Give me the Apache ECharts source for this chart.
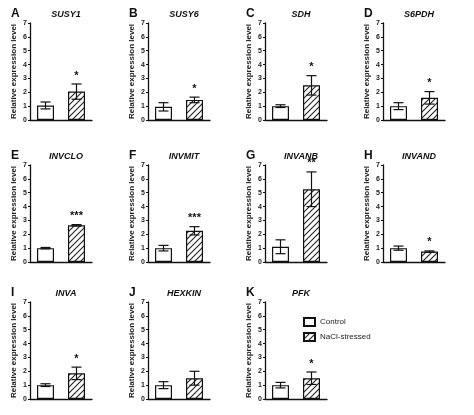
<!DOCTYPE html><html><head><meta charset="utf-8"><script src="https://cdn.jsdelivr.net/npm/echarts@6/dist/echarts.min.js"></script></head><body style="margin:0"><div id="c" style="width:474px;height:415px"></div><script>
const letters=['A','B','C','D','E','F','G','H','I','J','K'];
const genes=['SUSY1','SUSY6','SDH','S6PDH','INVCLO','INVMIT','INVANB','INVAND','INVA','HEXKIN','PFK'];
const controlMean=[1.05,0.95,1.0,1.0,1.0,1.0,1.1,1.0,1.0,1.0,1.0];
const controlErr=[0.25,0.3,0.1,0.25,0.05,0.2,0.5,0.15,0.1,0.25,0.2];
const stressMean=[2.05,1.45,2.5,1.6,2.65,2.25,5.25,0.75,1.85,1.5,1.5];
const stressErr=[0.55,0.2,0.7,0.45,0.05,0.3,1.25,0.05,0.45,0.5,0.45];
const sig=['*','*','*','*','***','***','**','*','*','','*'];
const yTicks=[0,1,2,3,4,5,6,7];
const cats=['Control','NaCl-stressed'];
const colX=[30,148,265,383], rowY=[23,165,302], W=62, H=97;
const grid=[],xAxis=[],yAxis=[],series=[],title=[];
const pc=document.createElement('canvas');pc.width=6;pc.height=6;const g=pc.getContext('2d');
g.fillStyle='#fff';g.fillRect(0,0,6,6);g.strokeStyle='#222';g.lineWidth=1.1;
g.beginPath();g.moveTo(0,6);g.lineTo(6,0);g.moveTo(-1,1);g.lineTo(1,-1);g.moveTo(5,7);g.lineTo(7,5);g.stroke();
for(let i=0;i<11;i++){
 const L=colX[i%4],T=rowY[Math.floor(i/4)];
 grid.push({left:L,top:T,width:W,height:H});
 xAxis.push({gridIndex:i,type:'category',data:cats,axisLabel:{show:false},axisTick:{show:false},axisLine:{lineStyle:{color:'#111',width:1.3}}});
 yAxis.push({gridIndex:i,type:'value',min:yTicks[0],max:yTicks[yTicks.length-1],interval:1,splitLine:{show:false},
  axisLine:{show:true,lineStyle:{color:'#111',width:1.3}},axisTick:{show:true,length:2,lineStyle:{color:'#111'}},
  axisLabel:{fontSize:7,margin:3,color:'#222',fontWeight:'bold',fontFamily:'Liberation Sans'},
  name:'Relative expression level',nameLocation:'middle',nameGap:12,nameTextStyle:{fontSize:8,color:'#222',fontWeight:'bold',fontFamily:'Liberation Sans'}});
 series.push({type:'bar',name:'Control',xAxisIndex:i,yAxisIndex:i,barWidth:17,data:[controlMean[i],'-'],itemStyle:{color:'#fff',borderColor:'#111',borderWidth:1.2},stack:'s'+i});
 series.push({type:'bar',name:'NaCl-stressed',xAxisIndex:i,yAxisIndex:i,barWidth:17,data:['-',stressMean[i]],itemStyle:{color:{image:pc,repeat:'repeat'},borderColor:'#111',borderWidth:1.2},stack:'s'+i});
 const ed=[[0,controlMean[i],controlErr[i],''],[1,stressMean[i],stressErr[i],sig[i]]];
 series.push({type:'custom',xAxisIndex:i,yAxisIndex:i,silent:true,data:ed,z:5,renderItem:(p,api)=>{
  const x=api.value(0),m=api.value(1),e=api.value(2);
  const a=api.coord([x,m]),b=api.coord([x,m+e]),c=api.coord([x,m-e]);
  const ch=[{type:'line',shape:{x1:a[0],y1:c[1],x2:a[0],y2:b[1]},style:{stroke:'#111',lineWidth:1.2}},
   {type:'line',shape:{x1:a[0]-5,y1:b[1],x2:a[0]+5,y2:b[1]},style:{stroke:'#111',lineWidth:1.2}},
   {type:'line',shape:{x1:a[0]-5,y1:c[1],x2:a[0]+5,y2:c[1]},style:{stroke:'#111',lineWidth:1.2}}];
  const s=ed[p.dataIndex][3];
  if(s)ch.push({type:'text',style:{text:s,x:a[0],y:b[1]-3,align:'center',verticalAlign:'bottom',font:'bold 11px Liberation Sans',fill:'#111'}});
  return {type:'group',children:ch};}});
 title.push({text:letters[i],left:L-24,top:T-20,textStyle:{fontSize:12,fontWeight:'bold',color:'#111',fontFamily:'Liberation Sans'}});
 title.push({text:genes[i],left:L+W/2,top:T-18,textAlign:'center',textStyle:{fontSize:9,fontWeight:'bold',fontStyle:'italic',color:'#111',fontFamily:'Liberation Sans'}});
}
const chart=echarts.init(document.getElementById('c'));
chart.setOption({animation:false,backgroundColor:'#fff',grid,xAxis,yAxis,series,title,
 legend:{data:cats,icon:'rect',orient:'vertical',left:298,top:312,itemWidth:11,itemHeight:8,itemGap:5,textStyle:{fontSize:8,color:'#222',fontFamily:'Liberation Sans'}}});
</script></body></html>
